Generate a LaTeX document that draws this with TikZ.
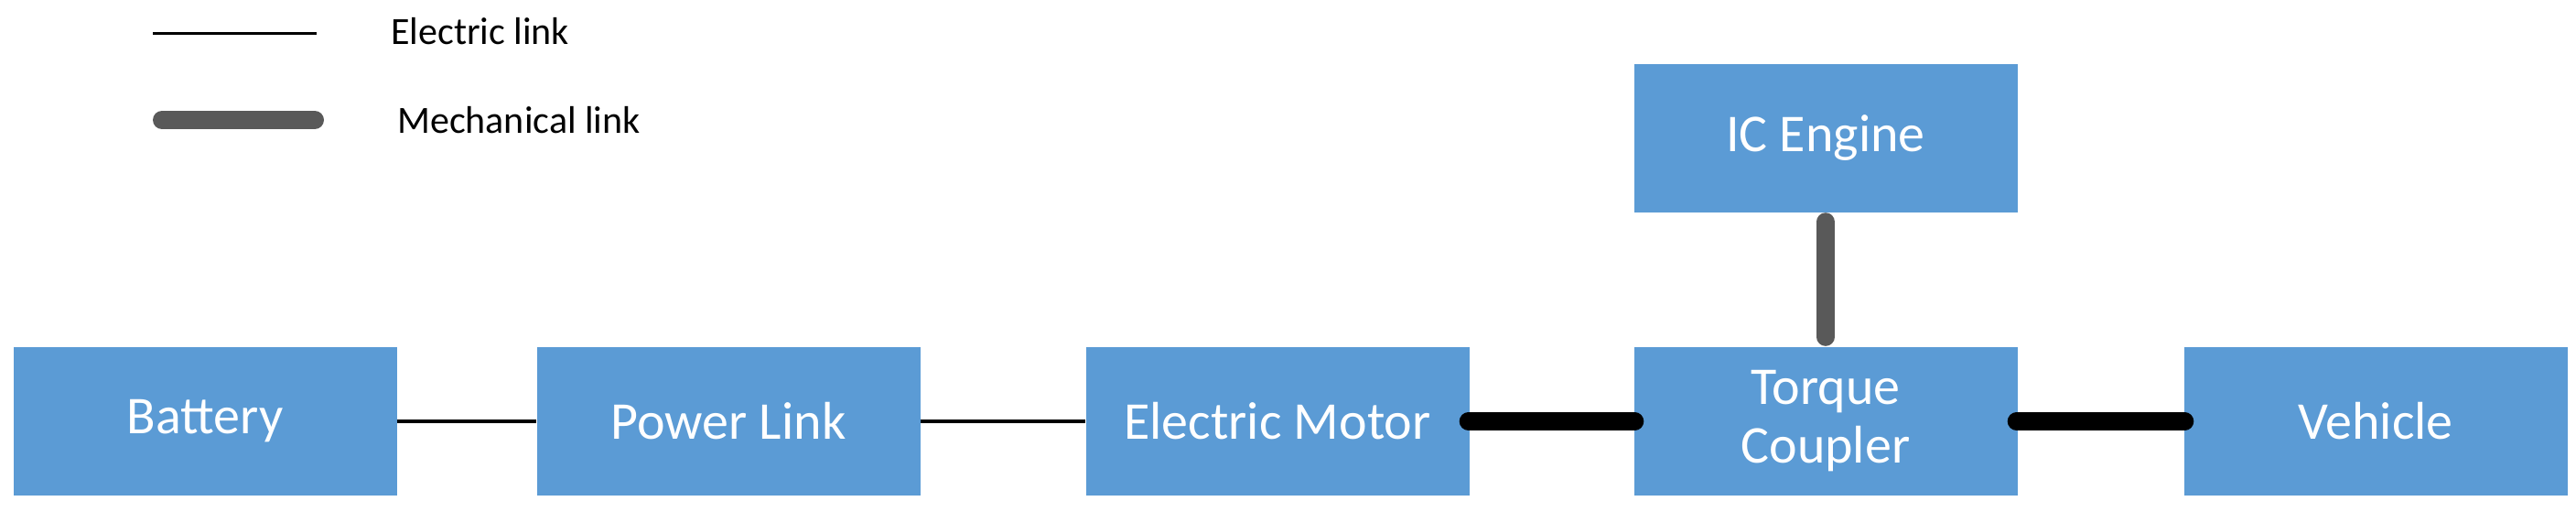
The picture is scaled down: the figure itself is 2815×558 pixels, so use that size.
\documentclass[tikz,border=0pt]{standalone}
\usepackage{fontspec}
\setmainfont{Carlito}
\definecolor{boxblue}{RGB}{91,155,213}
\definecolor{mgray}{RGB}{89,89,89}
\begin{document}
\begin{tikzpicture}[x=1pt,y=-1pt,
  box/.style={fill=boxblue,draw=none,minimum width=419pt,minimum height=162pt,inner sep=0pt,text=white,font=\fontsize{58}{64}\selectfont,align=center},
  elec/.style={line width=4pt,black},
  mech/.style={line width=20pt,black,line cap=round},
  mechg/.style={line width=20pt,mgray,line cap=round},
  lbl/.style={font=\fontsize{42}{48}\selectfont,anchor=west,inner sep=0pt}]
\useasboundingbox (0,0) rectangle (2815,558);
\node[box] (bat) at (224,460) {Battery};
\node[box] (pl) at (796,460) {Power Link};
\node[box] (em) at (1396,460) {Electric Motor};
\node[box] (tc) at (1995,460) {Torque\\Coupler};
\node[box] (veh) at (2596,460) {Vehicle};
\node[box] (ice) at (1995,151) {IC Engine};
\draw[elec] (bat) -- (pl);
\draw[elec] (pl) -- (em);
\draw[mech] ([xshift=-1pt]em.east) -- ([xshift=1pt]tc.west);
\draw[mech] ([xshift=-1pt]tc.east) -- ([xshift=1pt]veh.west);
\draw[mechg] ([yshift=-10pt]ice.south) -- ([yshift=11pt]tc.north);
\coordinate (e1) at (167,36); \coordinate (e2) at (346,36);
\coordinate (m1) at (177,131); \coordinate (m2) at (344,131);
\draw[elec,line width=3pt] (e1) -- (e2);
\draw[mechg] (m1) -- (m2);
\node[lbl] (el) at (427,34) {Electric link};
\node[lbl] (ml) at (434,131) {Mechanical link};
\end{tikzpicture}
\end{document}
